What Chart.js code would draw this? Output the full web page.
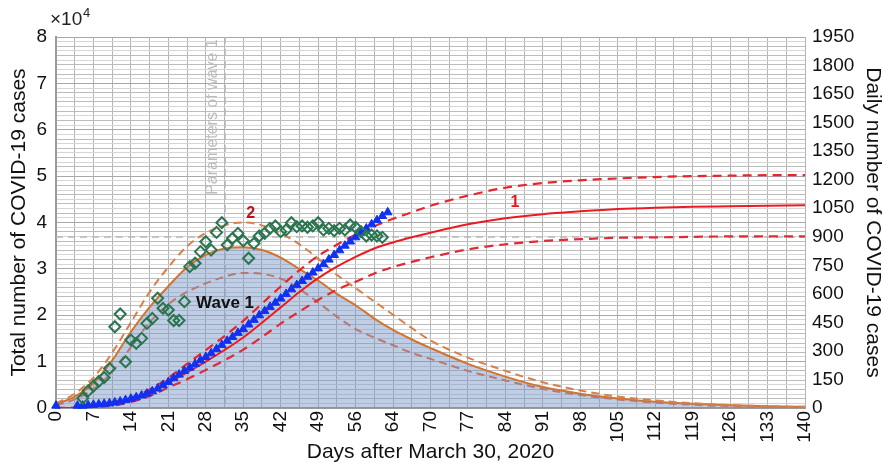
<!DOCTYPE html>
<html>
<head>
<meta charset="utf-8">
<script src="https://cdn.jsdelivr.net/npm/chart.js@4.4.1/dist/chart.umd.min.js"></script>
<style>
  html, body { margin: 0; padding: 0; background: #fff; }
  #wrap { width: 883px; height: 463px; }
</style>
</head>
<body>
<div id="wrap"><canvas id="chart" width="883" height="463"></canvas></div>
<script>
// x axis: days after March 30, 2020 (label at 63 is printed as "64" in the original)
const tickDays = [0, 7, 14, 21, 28, 35, 42, 49, 56, 63, 70, 77, 84, 91, 98, 105, 112, 119, 126, 133, 140];
const tickLabels = ['0', '7', '14', '21', '28', '35', '42', '49', '56', '64', '70', '77', '84', '91', '98', '105', '112', '119', '126', '133', '140'];

// observed total cases (x10^4), blue triangles
const totalDays = [0, 4, 5, 6, 7, 8, 9, 10, 11, 12, 13, 14, 15, 16, 17, 18, 19, 20, 21, 22, 23, 24, 25, 26, 27, 28, 29, 30,
  31, 32, 33, 34, 35, 36, 37, 38, 39, 40, 41, 42, 43, 44, 45, 46, 47, 48, 49, 50, 51, 52, 53, 54, 55, 56, 57, 58, 59, 60, 61, 62];
const totalCases = [0.05, 0.05, 0.05, 0.06, 0.07, 0.08, 0.09, 0.1, 0.12, 0.14, 0.17, 0.2, 0.23, 0.27, 0.31, 0.36, 0.42, 0.49, 0.56, 0.64, 0.72, 0.8, 0.87, 0.95, 1.03, 1.1, 1.18, 1.27,
  1.36, 1.45, 1.53, 1.62, 1.7, 1.8, 1.9, 2.0, 2.09, 2.18, 2.27, 2.36, 2.46, 2.56, 2.65, 2.74, 2.83, 2.92, 3.01, 3.1, 3.2, 3.3, 3.4, 3.5, 3.59, 3.68, 3.78, 3.87, 3.96, 4.05, 4.14, 4.22];

// observed daily cases, green diamonds
const dailyDays = [5, 6, 7, 8, 9, 10, 11, 12, 13, 14, 15, 16, 17, 18, 19, 20, 21, 22, 23, 24, 25, 26, 27, 28, 29, 30, 31, 32, 33,
  34, 35, 36, 37, 38, 39, 40, 41, 42, 43, 44, 45, 46, 47, 48, 49, 50, 51, 52, 53, 54, 55, 56, 57, 58, 59, 60, 61];
const dailyCases = [51, 90, 115, 140, 160, 208, 427, 494, 243, 357, 340, 366, 445, 471, 577, 524, 515, 460, 460, 559, 743, 761, 822, 874, 830, 923, 974, 857, 892,
  918, 879, 787, 865, 904, 918, 944, 957, 927, 936, 974, 953, 957, 950, 957, 974, 936, 944, 932, 944, 936, 962, 950, 927, 904, 909, 904, 897];

// model curves
const modelDays = [0, 3.5, 7, 10.5, 14, 17.5, 21, 24.5, 28, 31.5, 35, 38.5, 42, 45.5, 49, 52.5, 56, 59.5, 63, 66.5, 70, 77, 84, 91, 98, 105, 112, 119, 126, 133, 140];
const dailyModel = [20, 60, 130, 250, 400, 530, 640, 740, 805, 838, 845, 830, 790, 730, 670, 600, 540, 470, 410, 360, 315, 232, 165, 110, 75, 50, 33, 22, 14, 9, 6];
const dailyUpper = [25, 75, 160, 290, 450, 610, 740, 850, 920, 960, 975, 960, 918, 860, 785, 700, 630, 560, 490, 420, 355, 265, 195, 135, 92, 60, 40, 25, 15, 10, 6];
const dailyLower = [15, 45, 100, 190, 320, 450, 545, 610, 655, 690, 710, 705, 680, 625, 555, 480, 415, 370, 330, 290, 258, 195, 145, 100, 68, 45, 28, 17, 10, 6, 4];
const totalModel = [0, 0, 0.03, 0.08, 0.17, 0.32, 0.54, 0.77, 1.0, 1.25, 1.52, 1.84, 2.17, 2.5, 2.8, 3.05, 3.26, 3.44, 3.57, 3.68, 3.78, 3.96, 4.09, 4.18, 4.24, 4.29, 4.32, 4.34, 4.35, 4.36, 4.37];
const totalUpper = [0, 0.01, 0.05, 0.11, 0.22, 0.4, 0.65, 0.95, 1.25, 1.55, 1.88, 2.25, 2.62, 2.97, 3.28, 3.52, 3.74, 3.92, 4.08, 4.22, 4.36, 4.58, 4.75, 4.85, 4.91, 4.95, 4.98, 5.0, 5.01, 5.02, 5.02];
const totalLower = [0, 0, 0.02, 0.05, 0.13, 0.26, 0.44, 0.62, 0.82, 1.03, 1.26, 1.53, 1.82, 2.08, 2.33, 2.55, 2.72, 2.9, 3.04, 3.15, 3.25, 3.42, 3.53, 3.6, 3.64, 3.67, 3.68, 3.69, 3.7, 3.7, 3.7];

const waveParamDay = 31.6;   // "Parameters of wave 1" marker
const refLevel = 3.69;       // gray dashed horizontal line (x10^4)

const FONT = "'Liberation Sans', Arial, sans-serif";

function pts(xs, ys) {
    return xs.map((x, i) => ({ x: x, y: ys[i] }));
}

function modelLine(label, values, axis, color, dash, width, order) {
    return {
        label: label,
        data: pts(modelDays, values),
        yAxisID: axis,
        borderColor: color,
        borderWidth: width,
        borderDash: dash,
        pointRadius: 0,
        fill: false,
        cubicInterpolationMode: 'monotone',
        order: order
    };
}

const annotations = {
    id: 'annotations',
    beforeDatasetsDraw(chart) {
        const ctx = chart.ctx;
        const area = chart.chartArea;
        const xs = chart.scales.x;
        const ys = chart.scales.y;
        ctx.save();
        ctx.strokeStyle = '#b8b8b8';
        ctx.lineWidth = 1.5;
        ctx.setLineDash([7, 5]);
        let px = xs.getPixelForValue(waveParamDay);
        ctx.beginPath();
        ctx.moveTo(px, area.top);
        ctx.lineTo(px, area.bottom);
        let py = ys.getPixelForValue(refLevel);
        ctx.moveTo(area.left, py);
        ctx.lineTo(area.right, py);
        ctx.stroke();
        ctx.restore();
    },
    afterDatasetsDraw(chart) {
        const ctx = chart.ctx;
        const xs = chart.scales.x;
        const ys = chart.scales.y;
        ctx.save();
        ctx.textAlign = 'center';
        ctx.textBaseline = 'middle';

        // rotated label next to the dashed line
        let px = xs.getPixelForValue(waveParamDay);
        ctx.save();
        ctx.translate(px - 12, 117);
        ctx.rotate(-Math.PI / 2);
        ctx.fillStyle = '#bdbdbd';
        ctx.font = '16px ' + FONT;
        ctx.fillText('Parameters of wave 1', 0, 0);
        ctx.restore();

        ctx.fillStyle = '#111';
        ctx.font = 'bold 17px ' + FONT;
        ctx.fillText('Wave 1', px, ys.getPixelForValue(2.26));

        ctx.fillStyle = '#c0101a';
        ctx.font = 'bold 16px ' + FONT;
        ctx.fillText('2', xs.getPixelForValue(36.4), ys.getPixelForValue(4.2));
        ctx.fillStyle = '#e8141e';
        ctx.fillText('1', xs.getPixelForValue(85.8), ys.getPixelForValue(4.42));

        // exponent of the left axis
        ctx.textAlign = 'left';
        ctx.fillStyle = '#222';
        ctx.font = '19px ' + FONT;
        ctx.fillText('\u00d710', 50, 20);
        ctx.font = '13px ' + FONT;
        ctx.fillText('4', 83, 13);
        ctx.restore();
    }
};

const chart = new Chart(document.getElementById('chart'), {
    type: 'line',
    data: {
        datasets: [
            {
                label: 'Daily cases (observed)',
                data: pts(dailyDays, dailyCases),
                yAxisID: 'y2',
                showLine: false,
                pointStyle: 'rectRot',
                pointRadius: 5.5,
                pointBorderWidth: 2,
                pointBorderColor: '#2a7550',
                pointBackgroundColor: 'rgba(255,255,255,0)',
                order: 1
            },
            {
                label: 'Total cases (observed)',
                data: pts(totalDays, totalCases),
                yAxisID: 'y',
                showLine: false,
                pointStyle: 'triangle',
                pointRadius: 5,
                pointBorderWidth: 1,
                pointBorderColor: '#1230f0',
                pointBackgroundColor: '#1230f0',
                clip: false,
                order: 2
            },
            modelLine('Total model', totalModel, 'y', '#ea1b22', [], 2, 3),
            modelLine('Total upper', totalUpper, 'y', '#e8242c', [9, 6], 2.2, 4),
            modelLine('Total lower', totalLower, 'y', '#e02a38', [9, 6], 2.2, 5),
            modelLine('Daily upper', dailyUpper, 'y2', '#d88048', [8, 5], 2, 6),
            modelLine('Daily lower', dailyLower, 'y2', '#b87a70', [8, 5], 2, 7),
            Object.assign(modelLine('Wave 1', dailyModel, 'y2', '#d2742f', [], 2, 8), {
                fill: 'origin',
                backgroundColor: 'rgba(112,146,196,0.45)'
            })
        ]
    },
    options: {
        responsive: false,
        animation: false,
        events: [],
        layout: { padding: { top: 37, left: 0, right: 0, bottom: 0 } },
        plugins: {
            legend: { display: false },
            tooltip: { enabled: false }
        },
        scales: {
            x: {
                type: 'linear',
                min: 0,
                max: 140,
                afterBuildTicks: scale => {
                    let t = [];
                    for (let v = 0; v <= 140; v += 3.5) t.push({ value: v });
                    scale.ticks = t;
                },
                afterFit: scale => { scale.height = 55; },
                ticks: {
                    autoSkip: false,
                    maxRotation: 90,
                    minRotation: 90,
                    padding: 3,
                    color: '#111',
                    font: { family: FONT, size: 19 },
                    callback: v => {
                        let i = tickDays.indexOf(v);
                        return i >= 0 ? tickLabels[i] : '';
                    }
                },
                grid: { color: '#b4b4b4', lineWidth: 1, drawTicks: false },
                border: { color: '#9a9a9a', width: 2 },
                title: {
                    display: true,
                    text: 'Days after March 30, 2020',
                    color: '#111',
                    font: { family: FONT, size: 21, lineHeight: 1 },
                    padding: 0
                }
            },
            y: {
                position: 'left',
                min: 0,
                max: 8,
                afterBuildTicks: scale => {
                    let t = [];
                    for (let i = 0; i <= 80; i++) t.push({ value: i / 10 });
                    scale.ticks = t;
                },
                afterFit: scale => { scale.width = 56; },
                ticks: {
                    autoSkip: false,
                    padding: 9,
                    color: '#111',
                    font: { family: FONT, size: 19 },
                    callback: v => {
                        let r = Math.round(v);
                        return Math.abs(v - r) < 1e-6 ? String(r) : '';
                    }
                },
                grid: {
                    drawTicks: false,
                    lineWidth: 1,
                    color: c => (c.index % 10 === 0 ? '#a8a8a8' : (c.index % 2 ? '#d6d6d6' : '#bcbcbc'))
                },
                border: { color: '#9a9a9a', width: 2 },
                title: {
                    display: true,
                    text: 'Total number of COVID-19 cases',
                    color: '#111',
                    font: { family: FONT, size: 21, lineHeight: 1 },
                    padding: { top: 9, bottom: 0 }
                }
            },
            y2: {
                position: 'right',
                min: 0,
                max: 1950,
                afterBuildTicks: scale => {
                    let t = [];
                    for (let v = 0; v <= 1950; v += 150) t.push({ value: v });
                    scale.ticks = t;
                },
                afterFit: scale => { scale.width = 78; },
                ticks: {
                    autoSkip: false,
                    padding: 7,
                    color: '#111',
                    font: { family: FONT, size: 19 },
                    callback: v => String(v)
                },
                grid: { display: false, drawTicks: false },
                border: { display: false },
                title: {
                    display: true,
                    text: 'Daily number of COVID-19 cases',
                    color: '#111',
                    font: { family: FONT, size: 21, lineHeight: 1 },
                    padding: { top: 0, bottom: 0 }
                }
            }
        }
    },
    plugins: [annotations]
});
</script>
</body>
</html>
